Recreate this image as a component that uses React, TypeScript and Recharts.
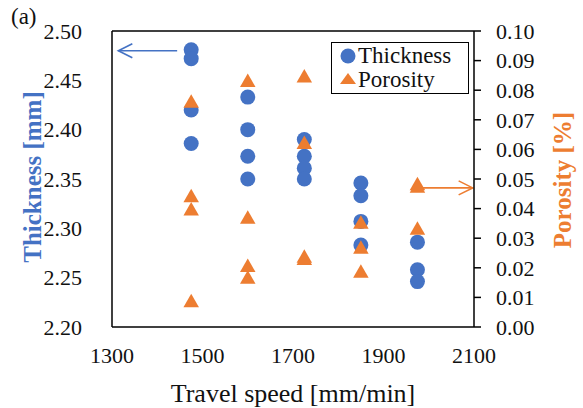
import {
  ScatterChart,
  Scatter,
  XAxis,
  YAxis,
  ReferenceLine,
} from 'recharts'

const BLUE = '#4472C4'
const ORANGE = '#ED7D31'
const FONT = '"Liberation Serif", "Times New Roman", serif'

// travel speeds [mm/min]
const speedTicks = [1300, 1500, 1700, 1900, 2100]
const thicknessTicks = [2.2, 2.25, 2.3, 2.35, 2.4, 2.45, 2.5]
const porosityTicks = [0, 0.01, 0.02, 0.03, 0.04, 0.05, 0.06, 0.07, 0.08, 0.09, 0.1]

const thicknessSpeed = [1475, 1475, 1475, 1475, 1600, 1600, 1600, 1600, 1725, 1725, 1725, 1725, 1850, 1850, 1850, 1850, 1975, 1975, 1975]
const thicknessValues = [2.481, 2.472, 2.42, 2.386, 2.433, 2.4, 2.373, 2.35, 2.39, 2.373, 2.361, 2.35, 2.346, 2.333, 2.307, 2.283, 2.286, 2.258, 2.246]

const porositySpeed = [1475, 1475, 1475, 1475, 1600, 1600, 1600, 1600, 1725, 1725, 1725, 1725, 1850, 1850, 1850, 1975, 1975, 1975]
const porosityValues = [0.0759, 0.044, 0.0395, 0.0085, 0.0829, 0.0367, 0.0204, 0.0164, 0.0844, 0.062, 0.0235, 0.0228, 0.035, 0.0266, 0.0185, 0.048, 0.0472, 0.033]

const thicknessData = thicknessSpeed.map((x, i) => ({ x, y: thicknessValues[i] }))
const porosityData = porositySpeed.map((x, i) => ({ x, y: porosityValues[i] }))

const Dot = (p: any) => <circle cx={p.cx} cy={p.cy} r={7.5} fill={BLUE} />

const Tri = (p: any) => {
  const { cx, cy } = p
  const h = 13.5
  const w = 15.5
  return (
    <polygon
      points={`${cx},${cy - h * 0.6} ${cx - w / 2},${cy + h * 0.4} ${cx + w / 2},${cy + h * 0.4}`}
      fill={ORANGE}
    />
  )
}

// arrow drawn along a reference segment, head at the second point
const arrowShape = (color: string) => (p: any) => {
  const { x1, y1, x2, y2 } = p
  const dir = x2 > x1 ? 1 : -1
  return (
    <g>
      <line x1={x1} y1={y1} x2={x2} y2={y2} stroke={color} strokeWidth={1.6} />
      <polyline
        points={`${x2 - dir * 14},${y2 - 7} ${x2},${y2} ${x2 - dir * 14},${y2 + 7}`}
        fill="none"
        stroke={color}
        strokeWidth={1.6}
      />
    </g>
  )
}

const LegendBox = () => (
  <div
    style={{
      position: 'absolute',
      left: 331,
      top: 42,
      width: 136,
      height: 49,
      border: '1.5px solid #000',
      background: '#fff',
      fontFamily: FONT,
      fontSize: 23,
      color: '#111',
      lineHeight: '24px',
      paddingTop: 1,
    }}
  >
    <div style={{ display: 'flex', alignItems: 'center' }}>
      <svg width={26} height={24}>
        <circle cx={16} cy={12} r={7.5} fill={BLUE} />
      </svg>
      <span>Thickness</span>
    </div>
    <div style={{ display: 'flex', alignItems: 'center' }}>
      <svg width={26} height={24}>
        <polygon points="16,5 8,16 24,16" fill={ORANGE} />
      </svg>
      <span>Porosity</span>
    </div>
  </div>
)

const tickStyle = { fontFamily: FONT, fontSize: 22, fill: '#111' }

export default function App() {
  return (
    <div style={{ position: 'absolute', left: 0, top: 0, width: 583, height: 408, background: '#fff' }}>
      <span
        style={{ position: 'absolute', left: 11, top: 4, fontFamily: FONT, fontSize: 23, color: '#111' }}
      >
        (a)
      </span>
      <ScatterChart width={583} height={408} margin={{ top: 31, right: 0, left: 0, bottom: 0 }}>
        <XAxis
          type="number"
          dataKey="x"
          domain={[1300, 2100]}
          ticks={speedTicks}
          interval={0}
          tickLine={false}
          tickSize={6}
          tickMargin={14}
          height={81}
          stroke="#000"
          strokeWidth={1.5}
          tick={tickStyle}
          label={{
            value: 'Travel speed [mm/min]',
            position: 'insideBottom',
            offset: 6,
            style: { fontFamily: FONT, fontSize: 26, fill: '#111' },
          }}
        />
        <YAxis
          yAxisId="left"
          type="number"
          dataKey="y"
          domain={[2.2, 2.5]}
          ticks={thicknessTicks}
          interval={0}
          width={112}
          tickLine={false}
          tickSize={6}
          tickMargin={24}
          stroke="#000"
          strokeWidth={1.5}
          tick={tickStyle}
          tickFormatter={(v: number) => v.toFixed(2)}
          label={{
            content: () => (
              <text
                x={32}
                y={177}
                transform="rotate(-90 32 177)"
                textAnchor="middle"
                dominantBaseline="central"
                style={{ fontFamily: FONT, fontSize: 25, fontWeight: 'bold', fill: BLUE }}
              >
                Thickness [mm]
              </text>
            ),
          }}
        />
        <YAxis
          yAxisId="right"
          orientation="right"
          type="number"
          dataKey="y"
          domain={[0, 0.1]}
          ticks={porosityTicks}
          interval={0}
          width={109}
          tickSize={7}
          tickMargin={15}
          stroke="#000"
          strokeWidth={1.5}
          tick={tickStyle}
          tickFormatter={(v: number) => v.toFixed(2)}
          label={{
            content: () => (
              <text
                x={562}
                y={180}
                transform="rotate(-90 562 180)"
                textAnchor="middle"
                dominantBaseline="central"
                style={{ fontFamily: FONT, fontSize: 25, fontWeight: 'bold', fill: ORANGE }}
              >
                Porosity [%]
              </text>
            ),
          }}
        />
        <ReferenceLine yAxisId="left" y={2.5} stroke="#000" strokeWidth={1.5} />
        <Scatter
          name="Thickness"
          yAxisId="left"
          data={thicknessData}
          shape={Dot}
          isAnimationActive={false}
        />
        <Scatter
          name="Porosity"
          yAxisId="right"
          data={porosityData}
          shape={Tri}
          isAnimationActive={false}
        />
        <ReferenceLine
          yAxisId="left"
          segment={[{ x: 1444, y: 2.48 }, { x: 1314, y: 2.48 }]}
          shape={arrowShape(BLUE)}
        />
        <ReferenceLine
          yAxisId="right"
          segment={[{ x: 1985, y: 0.047 }, { x: 2097, y: 0.047 }]}
          shape={arrowShape(ORANGE)}
        />
      </ScatterChart>
      <LegendBox />
    </div>
  )
}
